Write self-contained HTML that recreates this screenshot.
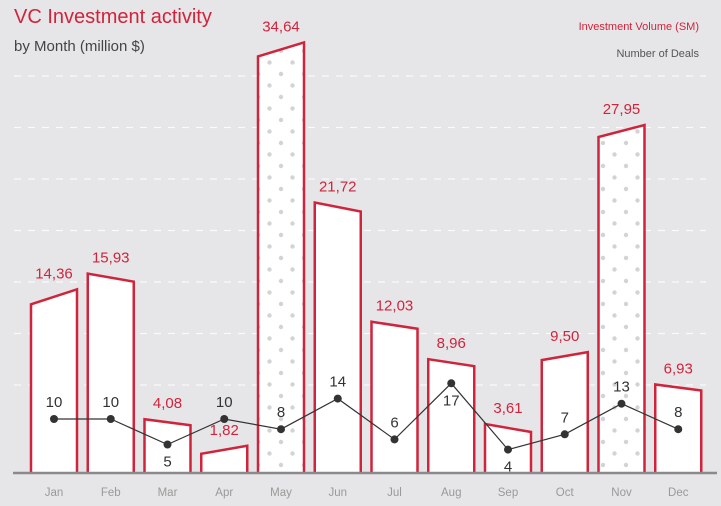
<!DOCTYPE html>
<html><head><meta charset="utf-8"><style>
html,body{margin:0;padding:0;background:#e6e6e8;}
svg{display:block;font-family:"Liberation Sans",sans-serif;}
</style></head><body>
<svg id="chart" width="721" height="506" viewBox="0 0 721 506" xmlns="http://www.w3.org/2000/svg">
<defs>
<pattern id="dots" width="23" height="23" patternUnits="userSpaceOnUse">
<rect width="23" height="23" fill="#fff"/>
<circle cx="5" cy="5" r="2.2" fill="#d3d3d5"/>
<circle cx="16.5" cy="16.5" r="2.2" fill="#d3d3d5"/>
</pattern>
</defs>
<rect width="721" height="506" fill="#e6e6e8"/>
<text x="14" y="23" font-size="20" fill="#d0243c">VC Investment activity</text>
<text x="14" y="51" font-size="15" fill="#444">by Month (million $)</text>
<text x="699" y="30" font-size="11" fill="#d0243c" text-anchor="end">Investment Volume (SM)</text>
<text x="699" y="57" font-size="11" fill="#555" text-anchor="end">Number of Deals</text>
<g id="grid"></g>
<g id="bars"></g>
<g id="line"></g>
<g id="labels"></g>
</svg>
<script>
const months = ["Jan","Feb","Mar","Apr","May","Jun","Jul","Aug","Sep","Oct","Nov","Dec"];
const volumes = [14.36,15.93,4.08,1.82,34.64,21.72,12.03,8.96,3.61,9.50,27.95,6.93];
const volumeLabels = ["14,36","15,93","4,08","1,82","34,64","21,72","12,03","8,96","3,61","9,50","27,95","6,93"];
const deals = [10,10,5,10,8,14,6,17,4,7,13,8];
const dealsLabelBelow = [false,false,true,false,false,false,false,true,true,false,false,false];
const tilt = [-15,8,6,-8,-14,9,7,7,8,-8,-12,6];
const highlighted = [false,false,false,false,true,false,false,false,false,false,true,false];

const NS = "http://www.w3.org/2000/svg";
const base = 472;
function xCenter(i){ return 54 + i*56.75; }
function yVol(v){ return base - v*12.2; }
function yDeals(n){ return 419 - (n-10)*5.1; }
function mk(tag, attrs, parent){
  const e = document.createElementNS(NS, tag);
  for (const k in attrs) e.setAttribute(k, attrs[k]);
  parent.appendChild(e);
  return e;
}
const grid = document.getElementById('grid');
for (let k=0;k<7;k++){
  const y = 76 + k*51.5;
  const l = mk('line',{x1:14,x2:706,y1:y,y2:y,stroke:'#fafafa','stroke-width':1.2,'stroke-dasharray':'7 7'},grid);
  
  
}
const bars = document.getElementById('bars');
const labels = document.getElementById('labels');
const line = document.getElementById('line');
volumes.forEach((v,i)=>{
  const cx = xCenter(i), hw = 23;
  const yc = yVol(v), t = tilt[i];
  const yl = yc - t/2, yr = yc + t/2;
  const p = mk('path',{d:`M${cx-hw},${base} L${cx-hw},${yl} L${cx+hw},${yr} L${cx+hw},${base}`,fill:highlighted[i]?'url(#dots)':'#fff',stroke:'#d0243c','stroke-width':2.5,'stroke-linejoin':'miter'},bars);
  
  
  const tx = mk('text',{x:cx,y:Math.min(yl,yr)-11,'font-size':15,fill:'#d0243c','text-anchor':'middle'},labels);
  tx.textContent = volumeLabels[i];
  
  
  const m = mk('text',{x:cx,y:496,'font-size':11.5,fill:'#999','text-anchor':'middle'},labels);
  m.textContent = months[i];
  
  
});
const axis = mk('line',{x1:13,x2:717,y1:473,y2:473,stroke:'#8a8a8c','stroke-width':2.5},bars);


const pts = deals.map((n,i)=>xCenter(i)+','+yDeals(n)).join(' ');
const pl = mk('polyline',{points:pts,fill:'none',stroke:'#333','stroke-width':1.2},line);


deals.forEach((n,i)=>{
  const cx = xCenter(i), cy = yDeals(n);
  const c = mk('circle',{cx:cx,cy:cy,r:4,fill:'#333'},line);
  
  
  const below = dealsLabelBelow[i];
  const t = mk('text',{x:cx,y:below?cy+22:cy-12,'font-size':15,fill:'#333','text-anchor':'middle'},labels);
  t.textContent = n;
  
  
});
</script>
</body></html>
